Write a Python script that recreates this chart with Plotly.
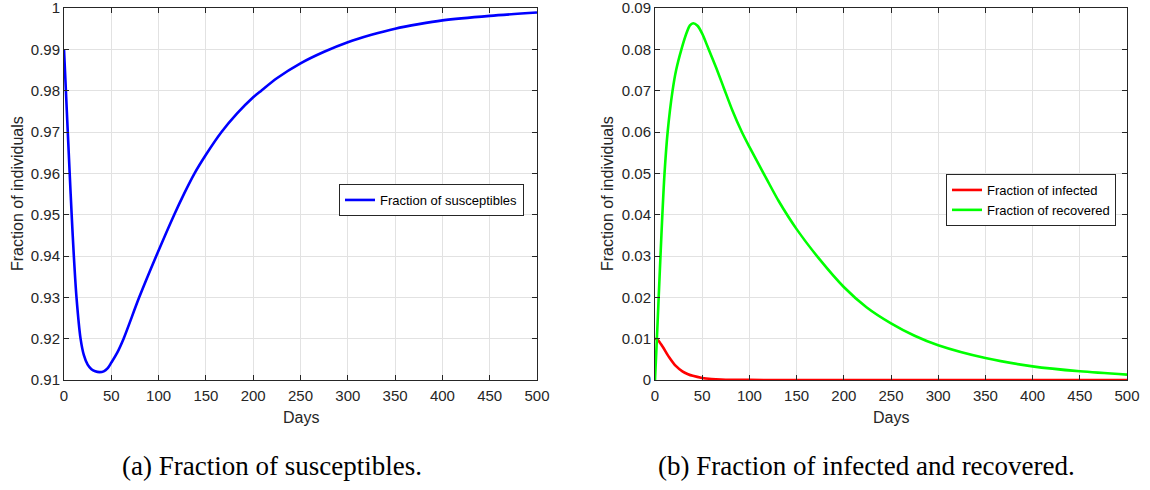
import plotly.graph_objects as go

# ---------------- data ----------------
days_s = [0, 2.0, 4.0, 6.0, 8.1, 10.4, 13.2, 17.5, 21, 25, 29, 33, 37.5, 42, 46, 50, 56,
          63, 79.5, 97.5, 116.5, 127, 138, 150, 166.5, 183, 200, 208.5, 225, 250, 275,
          300, 325, 350, 375, 400, 450, 500]
susceptible = [0.99, 0.98, 0.97, 0.96, 0.95, 0.94, 0.93, 0.92, 0.916, 0.9137, 0.9126,
               0.9121, 0.9119, 0.9121, 0.9128, 0.9142, 0.9165, 0.92, 0.93, 0.94, 0.95,
               0.9551, 0.96, 0.9645, 0.97, 0.9745, 0.9784, 0.98, 0.983, 0.9866, 0.9894,
               0.9917, 0.9935, 0.995, 0.9961, 0.997, 0.9981, 0.9989]

days_i = [0, 3, 8, 15, 22, 29, 35, 40, 50, 60, 70, 82, 100, 150, 200, 300, 400, 500]
infected = [0.0100, 0.0097, 0.0081, 0.0055, 0.0034, 0.0021, 0.0014, 0.0010, 0.0005,
            0.00026, 0.00013, 0.00006, 0.00002, 0.0, 0.0, 0.0, 0.0, 0.0]

days_r = [0, 2.0, 3.9, 5.8, 7.8, 10.1, 13.4, 18.6, 22.4, 28, 33.5, 37, 40.5, 45, 50, 55.8,
          64.7, 73, 82, 92, 100, 117.6, 131, 150, 174, 200, 224, 250, 275, 300, 350,
          400, 450, 500]
recovered = [0, 0.01, 0.02, 0.03, 0.04, 0.05, 0.06, 0.07, 0.075, 0.08, 0.084, 0.0858,
             0.0863, 0.0857, 0.0838, 0.0806, 0.0756, 0.0706, 0.0652, 0.0600, 0.0564,
             0.0489, 0.0433, 0.0365, 0.0293, 0.0225, 0.0176, 0.0137, 0.0107, 0.0084,
             0.0053, 0.0033, 0.0021, 0.0013]

x_ticks = [0, 50, 100, 150, 200, 250, 300, 350, 400, 450, 500]
x_ticktext = ["0", "50", "100", "150", "200", "250", "300", "350", "400", "450", "500"]
yl_ticks = [0.91, 0.92, 0.93, 0.94, 0.95, 0.96, 0.97, 0.98, 0.99, 1.0]
yl_ticktext = ["0.91", "0.92", "0.93", "0.94", "0.95", "0.96", "0.97", "0.98", "0.99", "1"]
yr_ticks = [0, 0.01, 0.02, 0.03, 0.04, 0.05, 0.06, 0.07, 0.08, 0.09]
yr_ticktext = ["0", "0.01", "0.02", "0.03", "0.04", "0.05", "0.06", "0.07", "0.08", "0.09"]

x_title = "Days"
y_title = "Fraction of individuals"
captions = ["(a) Fraction of susceptibles.", "(b) Fraction of infected and recovered."]

# ---------------- figure ----------------
W, H = 1150, 490
AX = "#262626"
GRID = "#e2e2e2"
FONT = "Liberation Sans, Arial, Helvetica, sans-serif"
SERIF = "Liberation Serif, Times New Roman, serif"

def px_x(p):
    return p / W

def px_y(p):
    return 1 - p / H

fig = go.Figure()
line_common = dict(width=2.6, shape="spline", smoothing=0.8)
fig.add_trace(go.Scatter(x=days_s, y=susceptible, mode="lines", name="Fraction of susceptibles",
                         line=dict(color="#0000ff", **line_common),
                         xaxis="x", yaxis="y", legend="legend"))
fig.add_trace(go.Scatter(x=days_i, y=infected, mode="lines", name="Fraction of infected",
                         line=dict(color="#ff0000", **line_common),
                         xaxis="x2", yaxis="y2", legend="legend2"))
fig.add_trace(go.Scatter(x=days_r, y=recovered, mode="lines", name="Fraction of recovered",
                         line=dict(color="#00ff00", **line_common),
                         xaxis="x2", yaxis="y2", legend="legend2"))

common_axis = dict(showline=True, linecolor=AX, linewidth=1, mirror="ticks",
                   ticks="inside", ticklen=5, tickcolor=AX, showgrid=True,
                   gridcolor=GRID, gridwidth=1, zeroline=False, automargin=False,
                   ticklabeloverflow="allow",
                   tickfont=dict(family=FONT, size=15, color=AX))

xdom_l = [px_x(64), px_x(537)]
xdom_r = [px_x(655), px_x(1127)]
ydom = [px_y(380), px_y(8)]

legend_common = dict(xanchor="right", yanchor="top", bgcolor="white", bordercolor=AX,
                     borderwidth=1, font=dict(family=FONT, size=13, color="#000000"),
                     tracegroupgap=0, itemwidth=30)

fig.update_layout(
    width=W, height=H,
    margin=dict(l=0, r=0, t=0, b=0),
    paper_bgcolor="white", plot_bgcolor="white",
    font=dict(family=FONT, color=AX),
    xaxis=dict(domain=xdom_l, range=[0, 500], tickvals=x_ticks, ticktext=x_ticktext,
               anchor="y", ticklabelstandoff=2, **common_axis),
    yaxis=dict(domain=ydom, range=[0.91, 1.0], tickvals=yl_ticks, ticktext=yl_ticktext,
               anchor="x", **common_axis),
    xaxis2=dict(domain=xdom_r, range=[0, 500], tickvals=x_ticks, ticktext=x_ticktext,
                anchor="y2", ticklabelstandoff=2, **common_axis),
    yaxis2=dict(domain=ydom, range=[0, 0.09], tickvals=yr_ticks, ticktext=yr_ticktext,
                anchor="x2", **common_axis),
    legend=dict(x=px_x(524), y=px_y(184), **legend_common),
    legend2=dict(x=px_x(1116), y=px_y(174), **legend_common),
    showlegend=True,
)

# axis titles
for cx in (300.5, 891):
    fig.add_annotation(text=x_title, x=px_x(cx), y=px_y(417), xref="paper", yref="paper",
                       xanchor="center", yanchor="middle", showarrow=False,
                       font=dict(family=FONT, size=16, color=AX))
for cx in (17, 607):
    fig.add_annotation(text=y_title, x=px_x(cx), y=px_y(194), xref="paper", yref="paper",
                       xanchor="center", yanchor="middle", showarrow=False, textangle=-90,
                       font=dict(family=FONT, size=16, color=AX))

# sub-figure captions
for text, cx in zip(captions, (272, 866)):
    fig.add_annotation(text=text, x=px_x(cx), y=px_y(466), xref="paper", yref="paper",
                       xanchor="center", yanchor="middle", showarrow=False,
                       font=dict(family=SERIF, size=27, color="#000000"))

fig.write_html("out.html")
